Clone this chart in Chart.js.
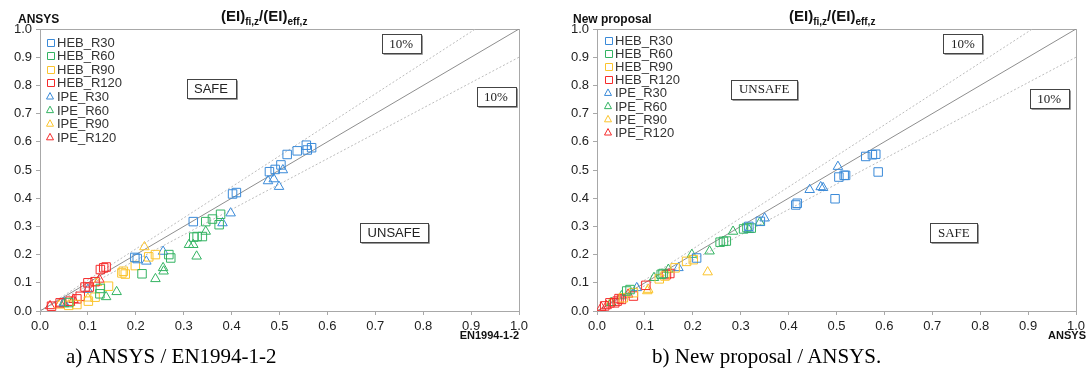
<!DOCTYPE html>
<html>
<head>
<meta charset="utf-8">
<script src="https://cdn.jsdelivr.net/npm/chart.js"></script>
<style>
  body { margin: 0; background: #fff; }
  #wrap { position: relative; width: 1091px; height: 376px; overflow: hidden; }
  canvas { position: absolute; top: 0; }
  .cap { position: absolute; top: 344px; font-family: "Liberation Serif", "Times New Roman", serif; font-size: 21px; color: #000; white-space: nowrap; }
</style>
</head>
<body>
<div id="wrap">
  <canvas id="chartA" width="545" height="345" style="left:0"></canvas>
  <canvas id="chartB" width="546" height="345" style="left:545px"></canvas>
  <div class="cap" style="left:66px">a) ANSYS / EN1994-1-2</div>
  <div class="cap" style="left:652px">b) New proposal / ANSYS.</div>
</div>
<script>
// series names, colours, marker shapes
const seriesNames = ["HEB_R30", "HEB_R60", "HEB_R90", "HEB_R120", "IPE_R30", "IPE_R60", "IPE_R90", "IPE_R120"];
const seriesColors = ["#3a8ad8", "#33b362", "#fbc42e", "#f52a2a", "#3a8ad8", "#33b362", "#fbc42e", "#f52a2a"];
const seriesShapes = ["rect", "rect", "rect", "rect", "triangle", "triangle", "triangle", "triangle"];
const tickValues = [0, 0.1, 0.2, 0.3, 0.4, 0.5, 0.6, 0.7, 0.8, 0.9, 1.0];

// reference lines (1:1 and +/-10%)
const lineEqual = [[0, 0], [1, 1]];
const lineUpper = [[0, 0], [0.909, 1]];
const lineLower = [[0, 0], [1, 0.9]];

// a) ANSYS / EN1994-1-2   [x, y]
const aHEB_R30 = [[0.503,0.518],[0.491,0.502],[0.479,0.494],[0.516,0.555],[0.537,0.568],[0.556,0.588],[0.567,0.579],[0.558,0.571],[0.402,0.415],[0.41,0.42],[0.32,0.317],[0.203,0.186],[0.198,0.19]];
const aHEB_R60 = [[0.377,0.343],[0.36,0.326],[0.346,0.317],[0.374,0.306],[0.328,0.264],[0.339,0.264],[0.321,0.262],[0.269,0.2],[0.273,0.188],[0.213,0.132],[0.126,0.08],[0.125,0.061],[0.06,0.03]];
const aHEB_R90 = [[0.241,0.2],[0.227,0.192],[0.199,0.161],[0.171,0.135],[0.178,0.131],[0.174,0.141],[0.143,0.088],[0.115,0.049],[0.101,0.035],[0.077,0.023],[0.06,0.02]];
const aHEB_R120 = [[0.133,0.153],[0.138,0.156],[0.126,0.147],[0.115,0.104],[0.094,0.085],[0.103,0.085],[0.084,0.052],[0.077,0.043],[0.063,0.035],[0.042,0.029],[0.024,0.017],[0.1,0.1]];
const aIPE_R30 = [[0.476,0.461],[0.488,0.468],[0.499,0.441],[0.507,0.5],[0.398,0.347],[0.381,0.312],[0.257,0.211],[0.222,0.176],[0.1,0.076],[0.05,0.03]];
const aIPE_R60 = [[0.346,0.282],[0.311,0.235],[0.32,0.235],[0.327,0.194],[0.258,0.141],[0.257,0.153],[0.241,0.114],[0.16,0.068],[0.138,0.05],[0.05,0.025]];
const aIPE_R90 = [[0.218,0.227],[0.119,0.1],[0.1,0.045],[0.063,0.029],[0.04,0.02]];
const aIPE_R120 = [[0.124,0.112],[0.021,0.018],[0.042,0.027],[0.07,0.04]];

// b) New proposal / ANSYS
const bHEB_R30 = [[0.561,0.548],[0.575,0.554],[0.582,0.556],[0.505,0.475],[0.516,0.481],[0.519,0.481],[0.587,0.493],[0.497,0.398],[0.418,0.382],[0.415,0.376],[0.341,0.318],[0.317,0.3],[0.208,0.188]];
const bHEB_R60 = [[0.322,0.294],[0.306,0.291],[0.313,0.296],[0.264,0.247],[0.257,0.244],[0.27,0.248],[0.138,0.133],[0.134,0.13],[0.062,0.071],[0.069,0.076]];
const bHEB_R90 = [[0.187,0.176],[0.201,0.182],[0.163,0.153],[0.142,0.124],[0.13,0.114],[0.076,0.065],[0.055,0.047]];
const bHEB_R120 = [[0.152,0.133],[0.145,0.129],[0.102,0.091],[0.076,0.053],[0.051,0.041],[0.042,0.035],[0.027,0.029],[0.016,0.018],[0.037,0.029],[0.046,0.044]];
const bIPE_R30 = [[0.503,0.512],[0.444,0.43],[0.467,0.44],[0.472,0.437],[0.35,0.329],[0.317,0.288],[0.17,0.153],[0.083,0.082]];
const bIPE_R60 = [[0.34,0.314],[0.284,0.282],[0.235,0.212],[0.198,0.2],[0.149,0.147],[0.119,0.118],[0.051,0.053],[0.03,0.029]];
const bIPE_R90 = [[0.231,0.138],[0.107,0.076],[0.105,0.071],[0.028,0.029]];
const bIPE_R120 = [[0.009,0.012],[0.02,0.018],[0.065,0.059]];

// text boxes [text, x, y, serif?]
const aBoxes = [["SAFE", 0.357, 0.79, false], ["UNSAFE", 0.739, 0.277, false], ["10%", 0.754, 0.947, true], ["10%", 0.952, 0.762, true]];
const bBoxes = [["UNSAFE", 0.349, 0.787, true], ["SAFE", 0.745, 0.277, true], ["10%", 0.764, 0.947, true], ["10%", 0.944, 0.755, true]];

const SANS = '"Liberation Sans", Arial, sans-serif';
const SERIF = '"Liberation Serif", "Times New Roman", serif';

function toXY(arr) { return arr.map(p => ({ x: p[0], y: p[1] })); }

function drawShape(ctx, shape, x, y, r, color) {
  ctx.save();
  ctx.strokeStyle = color;
  ctx.lineWidth = 1;
  ctx.beginPath();
  if (shape === "rect") {
    ctx.rect(Math.round(x - r) + 0.5, Math.round(y - r) + 0.5, 2 * r, 2 * r);
  } else {
    ctx.moveTo(x, y - r * 1.1);
    ctx.lineTo(x + r, y + r * 0.75);
    ctx.lineTo(x - r, y + r * 0.75);
    ctx.closePath();
  }
  ctx.stroke();
  ctx.restore();
}

const decor = {
  id: "decor",
  beforeDatasetsDraw(chart, args, o) {
    const { ctx, chartArea: a } = chart;
    ctx.save();
    ctx.strokeStyle = "#a8a8a8";
    ctx.lineWidth = 1;
    ctx.strokeRect(a.left + 0.5, a.top + 0.5, a.right - a.left, a.bottom - a.top);
    ctx.restore();
  },
  afterDraw(chart, args, o) {
    const { ctx, chartArea: a, scales } = chart;
    ctx.save();
    ctx.fillStyle = "#111";
    ctx.textBaseline = "alphabetic";
    // y title
    ctx.font = "bold 12px " + SANS;
    ctx.textAlign = "left";
    ctx.fillText(o.yTitle, o.yTitleX, 23);
    // x title
    ctx.font = "bold 11px " + SANS;
    ctx.textAlign = "right";
    ctx.fillText(o.xTitle, a.right + o.xTitleDx, 339);
    // main title with subscripts
    ctx.textAlign = "left";
    let x = o.titleX;
    const parts = [["(EI)", 15, 0], ["fi,z", 10, 4], ["/(EI)", 15, 0], ["eff,z", 10, 4]];
    parts.forEach(p => {
      ctx.font = "bold " + p[1] + "px " + SANS;
      ctx.fillText(p[0], x, 21 + p[2]);
      x += ctx.measureText(p[0]).width;
    });
    // text boxes
    o.boxes.forEach(b => {
      const cx = scales.x.getPixelForValue(b[1]);
      const cy = scales.y.getPixelForValue(b[2]);
      ctx.font = (b[3] ? "13px " + SERIF : "13px " + SANS);
      const w = Math.round(ctx.measureText(b[0]).width + 15);
      const h = 19;
      const l = Math.round(cx - w / 2) + 0.5, t = Math.round(cy - h / 2) + 0.5;
      ctx.fillStyle = "#fff";
      ctx.fillRect(l, t, w, h);
      ctx.strokeStyle = "#999";
      ctx.lineWidth = 1;
      ctx.beginPath();
      ctx.moveTo(l + 1, t + h + 1); ctx.lineTo(l + w + 1, t + h + 1); ctx.lineTo(l + w + 1, t + 1);
      ctx.stroke();
      ctx.strokeStyle = "#444";
      ctx.strokeRect(l, t, w, h);
      ctx.fillStyle = "#222";
      ctx.textAlign = "center";
      ctx.textBaseline = "middle";
      ctx.fillText(b[0], cx, cy + 1);
    });
    // legend
    ctx.textAlign = "left";
    ctx.textBaseline = "middle";
    ctx.font = "13px " + SANS;
    let row = 0;
    chart.data.datasets.forEach(ds => {
      if (!ds.label) return;
      const yy = o.legendY + row * o.legendStep;
      drawShape(ctx, ds.pointStyle, o.legendX, yy, 3.5, ds.borderColor);
      ctx.fillStyle = "#333";
      ctx.fillText(ds.label, o.legendX + 7, yy + 1);
      row++;
    });
    ctx.restore();
  }
};

function makeChart(id, series, opts) {
  const datasets = [
    { type: "line", data: toXY(lineUpper), borderColor: "#bcbcbc", borderWidth: 1, borderDash: [2, 2], pointRadius: 0, order: 10 },
    { type: "line", data: toXY(lineEqual), borderColor: "#8e8e8e", borderWidth: 1, pointRadius: 0, order: 10 },
    { type: "line", data: toXY(lineLower), borderColor: "#bcbcbc", borderWidth: 1, borderDash: [2, 2], pointRadius: 0, order: 10 }
  ];
  series.forEach((s, i) => {
    datasets.push({
      label: seriesNames[i],
      data: toXY(s),
      borderColor: seriesColors[i],
      backgroundColor: "rgba(0,0,0,0)",
      pointStyle: seriesShapes[i],
      pointRadius: seriesShapes[i] === "rect" ? 6 : 5.5,
      pointBorderWidth: 1,
      order: 1
    });
  });
  const tickFont = { family: SANS, size: 13 };
  return new Chart(document.getElementById(id), {
    type: "scatter",
    data: { datasets },
    options: {
      responsive: false,
      devicePixelRatio: 1,
      animation: false,
      layout: { padding: { left: 0, right: opts.padRight, top: 29, bottom: 0 } },
      plugins: { legend: { display: false }, tooltip: { enabled: false }, decor: opts },
      scales: {
        x: {
          type: "linear", min: 0, max: 1,
          afterBuildTicks: s => { s.ticks = tickValues.map(v => ({ value: v })); },
          afterFit: s => { s.height = 34; },
          ticks: { font: tickFont, color: "#222", padding: 4, maxRotation: 0, callback: v => v.toFixed(1) },
          grid: { drawOnChartArea: false, drawTicks: true, tickLength: 4, color: "#a8a8a8" },
          border: { display: true, color: "#a8a8a8" }
        },
        y: {
          type: "linear", min: 0, max: 1,
          afterBuildTicks: s => { s.ticks = tickValues.map(v => ({ value: v })); },
          afterFit: s => { s.width = opts.yWidth; },
          ticks: { font: tickFont, color: "#222", padding: 4, callback: v => v.toFixed(1) },
          grid: { drawOnChartArea: false, drawTicks: true, tickLength: 4, color: "#a8a8a8" },
          border: { display: true, color: "#a8a8a8" }
        }
      }
    },
    plugins: [decor]
  });
}

makeChart("chartA", [aHEB_R30, aHEB_R60, aHEB_R90, aHEB_R120, aIPE_R30, aIPE_R60, aIPE_R90, aIPE_R120], {
  padRight: 26, yWidth: 40, yTitle: "ANSYS", yTitleX: 18, xTitle: "EN1994-1-2", xTitleDx: 0,
  titleX: 221, boxes: aBoxes, legendX: 50, legendY: 42, legendStep: 13.6
});
makeChart("chartB", [bHEB_R30, bHEB_R60, bHEB_R90, bHEB_R120, bIPE_R30, bIPE_R60, bIPE_R90, bIPE_R120], {
  padRight: 15, yWidth: 52, yTitle: "New proposal", yTitleX: 28, xTitle: "ANSYS", xTitleDx: 10,
  titleX: 244, boxes: bBoxes, legendX: 63, legendY: 40, legendStep: 13.2
});
</script>
</body>
</html>
